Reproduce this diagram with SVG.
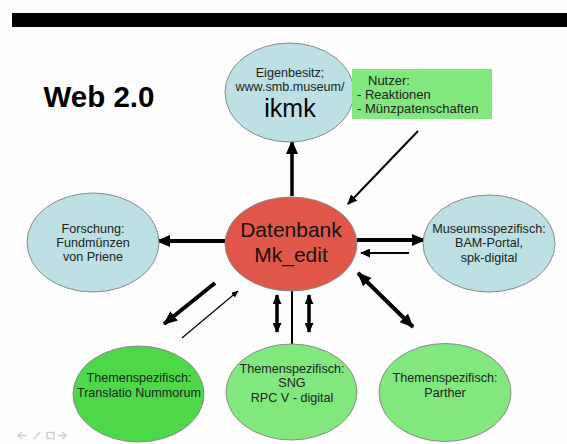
<svg xmlns="http://www.w3.org/2000/svg" width="567" height="444" viewBox="0 0 567 444">
<style>
text{font-family:"Liberation Sans",Arial,sans-serif;fill:#222;text-anchor:middle}
.s{font-size:12.6px}
.n{font-size:13px;text-anchor:start}
.node{stroke:#8a8a8a;stroke-width:1}
.blue{fill:#BCE0E3}
.lg{fill:#80E87D}
.dg{fill:#4CD847}
.red{fill:#E0574A}
.ln{stroke:#000;fill:none}
.nav{fill:none;stroke:#cfcfcf;stroke-width:1.5}
</style>
<defs>
<marker id="ah" markerUnits="userSpaceOnUse" markerWidth="14" markerHeight="12" refX="13" refY="6" orient="auto-start-reverse" viewBox="0 0 14 12"><path d="M0,0 L14,6 L0,12 z" fill="#000"/></marker>
<marker id="am" markerUnits="userSpaceOnUse" markerWidth="10" markerHeight="9" refX="9" refY="4.5" orient="auto-start-reverse" viewBox="0 0 10 9"><path d="M0,0 L10,4.5 L0,9 z" fill="#000"/></marker>
<marker id="as" markerUnits="userSpaceOnUse" markerWidth="7" markerHeight="6" refX="6.5" refY="3" orient="auto-start-reverse" viewBox="0 0 7 6"><path d="M0,0 L7,3 L0,6 z" fill="#000"/></marker>
</defs>
<rect width="567" height="444" fill="#fdfdfd"/>
<rect x="12" y="13" width="555" height="14" fill="#000"/>
<text x="99" y="107" style="font-size:29.5px;font-weight:bold;fill:#000">Web 2.0</text>

<g id="connectors">
<line class="ln" x1="292" y1="196" x2="292" y2="141" stroke-width="3.5" marker-end="url(#ah)"/>
<line class="ln" x1="225" y1="241" x2="157" y2="241" stroke-width="4" marker-end="url(#ah)"/>
<line class="ln" x1="357" y1="240" x2="425" y2="240" stroke-width="4" marker-end="url(#ah)"/>
<line class="ln" x1="409" y1="253" x2="361" y2="253" stroke-width="1.8" marker-end="url(#am)"/>
<line class="ln" x1="418" y1="131" x2="348" y2="204" stroke-width="2" marker-end="url(#am)"/>
<line class="ln" x1="358" y1="273" x2="413" y2="327" stroke-width="4" marker-start="url(#ah)" marker-end="url(#ah)"/>
<line class="ln" x1="215" y1="283" x2="164" y2="324" stroke-width="4" marker-end="url(#ah)"/>
<line class="ln" x1="182" y1="338" x2="238" y2="291" stroke-width="1.2" marker-end="url(#as)"/>
<line class="ln" x1="292" y1="290" x2="292" y2="344" stroke-width="2"/>
<line class="ln" x1="277" y1="295" x2="277" y2="332" stroke-width="3.5" marker-start="url(#am)" marker-end="url(#am)"/>
<line class="ln" x1="309" y1="295" x2="309" y2="332" stroke-width="3.5" marker-start="url(#am)" marker-end="url(#am)"/>
</g>

<g id="eigenbesitz">
<ellipse class="node blue" cx="289.5" cy="92.5" rx="64.5" ry="49.5"/>
<text class="s" x="290" y="77">Eigenbesitz;</text>
<text class="s" x="290" y="91">www.smb.museum/</text>
<text x="290" y="117" style="font-size:25px;fill:#000">ikmk</text>
</g>

<g id="nutzer">
<rect x="352" y="69" width="140" height="50" fill="#80E87D"/>
<text class="n" x="368" y="85">Nutzer:</text>
<text class="n" x="357" y="99">- Reaktionen</text>
<text class="n" x="357" y="113">- Münzpatenschaften</text>
</g>

<g id="datenbank">
<ellipse class="node red" cx="291" cy="244" rx="66" ry="47"/>
<text x="291" y="237" style="font-size:21px;fill:#111">Datenbank</text>
<text x="291" y="262" style="font-size:21px;fill:#111">Mk_edit</text>
</g>

<g id="forschung">
<ellipse class="node blue" cx="93" cy="242.5" rx="66" ry="49.5"/>
<text class="s" x="93" y="233">Forschung:</text>
<text class="s" x="93" y="247">Fundmünzen</text>
<text class="s" x="93" y="261">von Priene</text>
</g>

<g id="museum">
<ellipse class="node blue" cx="489" cy="243.5" rx="66" ry="48.5"/>
<text class="s" x="489" y="233">Museumsspezifisch:</text>
<text class="s" x="489" y="247">BAM-Portal,</text>
<text class="s" x="489" y="262">spk-digital</text>
</g>

<g id="translatio">
<ellipse class="node dg" cx="138.5" cy="394" rx="65.5" ry="48"/>
<text class="s" x="139" y="382">Themenspezifisch:</text>
<text class="s" x="139" y="397">Translatio Nummorum</text>
</g>

<g id="sng">
<ellipse class="node lg" cx="291.5" cy="392" rx="65.5" ry="48"/>
<text class="s" x="292" y="373">Themenspezifisch:</text>
<text class="s" x="292" y="387">SNG</text>
<text class="s" x="292" y="402">RPC V - digital</text>
</g>

<g id="parther">
<ellipse class="node lg" cx="445" cy="392.5" rx="66" ry="49"/>
<text class="s" x="445" y="382">Themenspezifisch:</text>
<text class="s" x="445" y="397">Parther</text>
</g>

<g id="nav">
<path class="nav" d="M22,432 L18,435.5 L22,439 M18,435.5 L26,435.5"/>
<path class="nav" d="M34,439 L40,432"/>
<rect class="nav" x="47" y="432.5" width="7" height="6"/>
<path class="nav" d="M62,432 L66,435.5 L62,439 M58,435.5 L66,435.5"/>
</g>
</svg>
